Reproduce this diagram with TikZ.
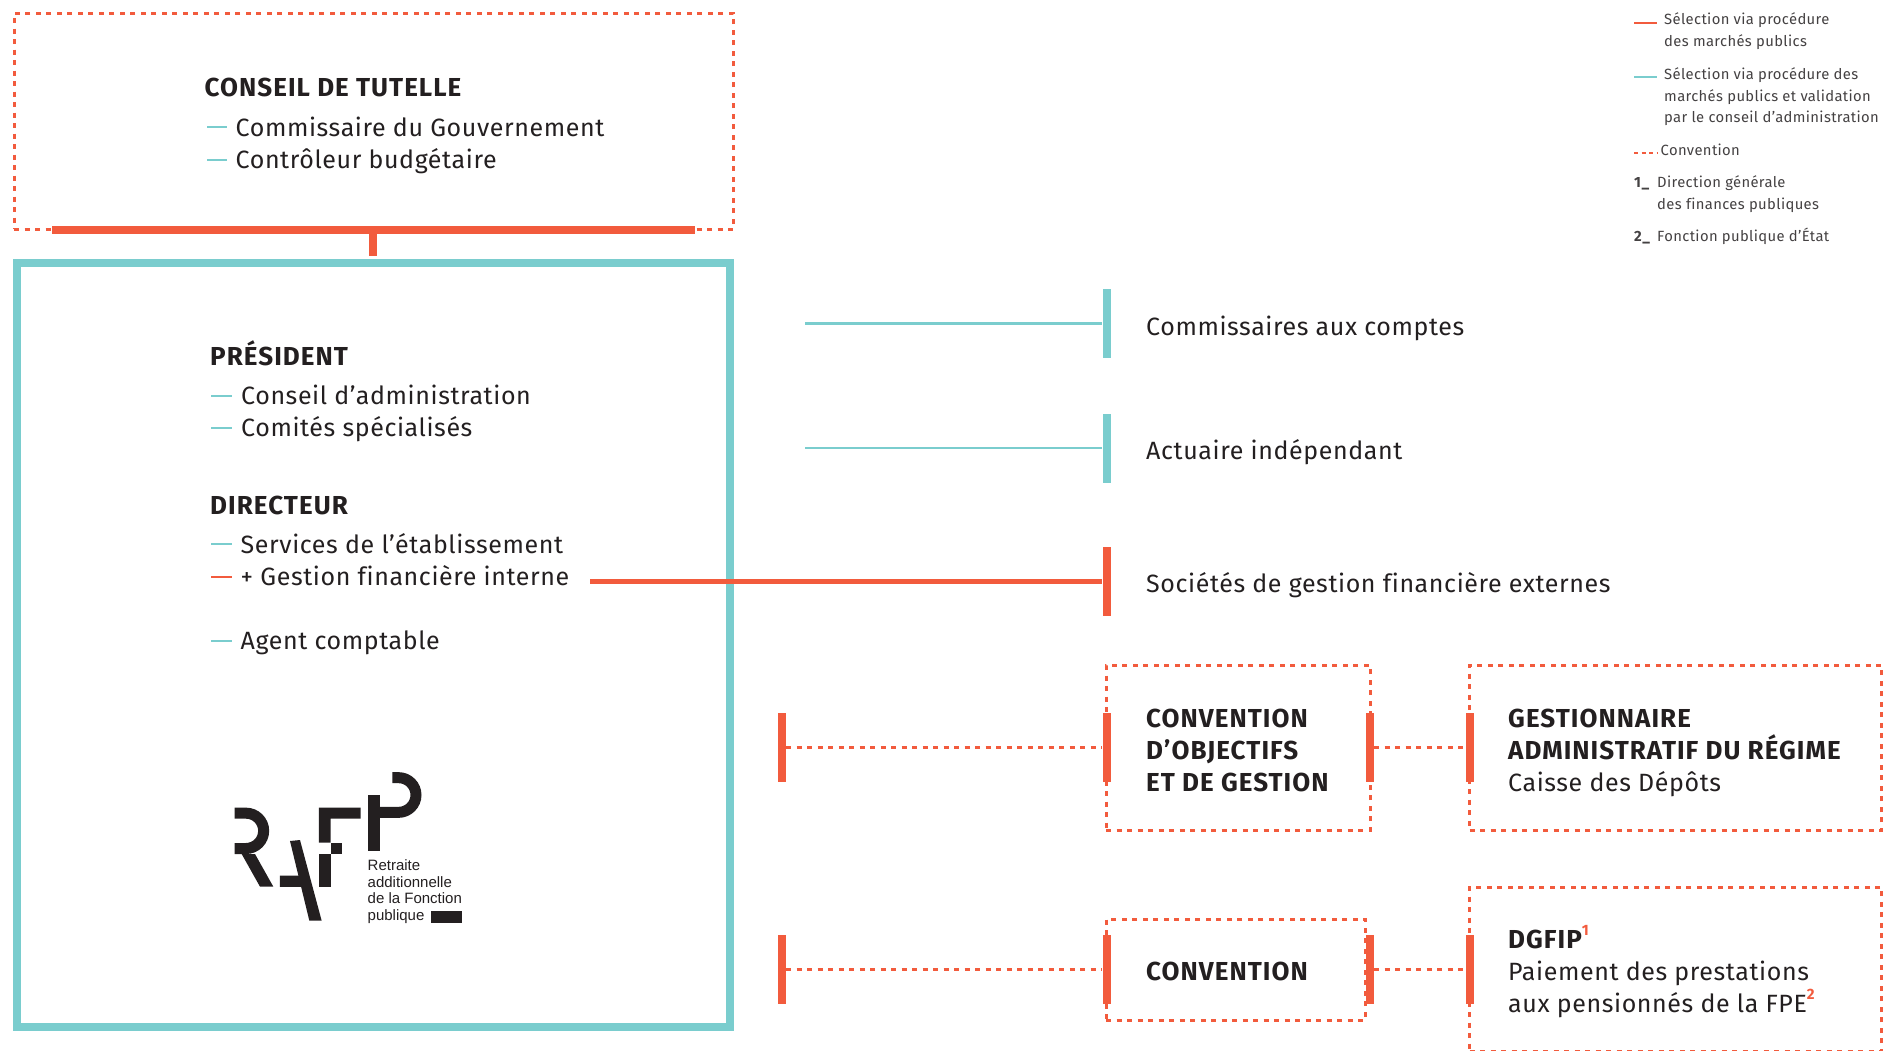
\documentclass[tikz,border=0pt]{standalone}
\usepackage{fontspec}
\setmainfont{Fira Sans}[LetterSpace=2.4, Ligatures=NoCommon, BoldFeatures={LetterSpace=4}]
\newfontfamily\logofont{Liberation Sans}
\definecolor{rafred}{HTML}{F25B3D}
\definecolor{rafteal}{HTML}{7ACDCE}
\definecolor{rafink}{HTML}{231F20}
\newcommand{\refmark}[1]{\textcolor{rafred}{\raisebox{0.5em}{\fontsize{15pt}{15pt}\selectfont\bfseries #1}}}
\tikzset{
  bodytxt/.style={anchor=base west, align=left, text=rafink, font=\fontsize{25pt}{32pt}\selectfont},
  headtxt/.style={bodytxt, font=\fontsize{26pt}{32pt}\selectfont\bfseries},
  smalltxt/.style={anchor=base west, align=left, text=rafink!85, font=\fontsize{14.8pt}{21.3pt}\selectfont},
  smallnum/.style={smalltxt, font=\fontsize{14.8pt}{21.3pt}\selectfont\bfseries},
  logotxt/.style={anchor=base west, align=left, text=rafink, font=\fontsize{15pt}{16.6pt}\logofont},
  dashbox/.style={rectangle, draw=rafred, line width=3pt, dash pattern=on 5pt off 5.5pt},
  redbar/.style={rectangle, fill=rafred, minimum width=8pt, minimum height=69pt},
  tealbar/.style={rectangle, fill=rafteal, minimum width=8pt, minimum height=69pt},
  redline/.style={draw=rafred, line width=5pt},
  tealline/.style={draw=rafteal, line width=2.5pt},
  tealmark/.style={draw=rafteal, line width=2pt},
  redmark/.style={draw=rafred, line width=2pt},
  dashline/.style={draw=rafred, line width=3pt, dash pattern=on 5pt off 5.5pt},
  stroke/.style={draw=rafink, line width=11pt},
  ink/.style={fill=rafink}
}
\begin{document}
\begin{tikzpicture}
[every node/.style={inner sep=0pt}]
\useasboundingbox (0pt, 0pt) rectangle (1884pt, -1050pt);
% left column
\node (tutelle) [dashbox, minimum width=719pt, minimum height=216pt] at (373.5pt, -121pt) {};
\node (main) [rectangle, draw=rafteal, line width=8pt, minimum width=713pt, minimum height=764.5pt] at (373pt, -645pt) {};
\node (tutellebar) [rectangle, fill=rafred, minimum width=643pt, minimum height=8pt] at (373pt, -230pt) {};
\coordinate (stemend) at (373pt, -256pt);
\draw [redline, line width=8pt] (tutellebar) -- (stemend);
\node (conseil) [headtxt] at (204.5pt, -96pt) {CONSEIL DE TUTELLE};
\coordinate (d1a) at (207pt, -127pt); \coordinate (d1b) at (227pt, -127pt);
\coordinate (d2a) at (207pt, -159.5pt); \coordinate (d2b) at (227pt, -159.5pt);
\draw [tealmark] (d1a) -- (d1b);
\draw [tealmark] (d2a) -- (d2b);
\node (commissaire) [bodytxt] at (235.5pt, -136pt) {Commissaire du Gouvernement};
\node (controleur) [bodytxt] at (235.5pt, -168pt) {Contrôleur budgétaire};
\node (president) [headtxt] at (210pt, -365pt) {PRÉSIDENT};
\coordinate (d3a) at (211pt, -395.5pt); \coordinate (d3b) at (232pt, -395.5pt);
\coordinate (d4a) at (211pt, -427.5pt); \coordinate (d4b) at (232pt, -427.5pt);
\draw [tealmark] (d3a) -- (d3b);
\draw [tealmark] (d4a) -- (d4b);
\node (ca) [bodytxt] at (241pt, -404pt) {Conseil d’administration};
\node (comites) [bodytxt] at (241pt, -436pt) {Comités spécialisés};
\node (directeur) [headtxt] at (210pt, -514pt) {DIRECTEUR};
\coordinate (d5a) at (211pt, -544pt); \coordinate (d5b) at (232pt, -544pt);
\coordinate (d6a) at (211pt, -577pt); \coordinate (d6b) at (232pt, -577pt);
\coordinate (d7a) at (211pt, -640.5pt); \coordinate (d7b) at (232pt, -640.5pt);
\draw [tealmark] (d5a) -- (d5b);
\draw [redmark] (d6a) -- (d6b);
\draw [tealmark] (d7a) -- (d7b);
\node (services) [bodytxt] at (240.5pt, -553pt) {Services de l’établissement};
\node (gestion) [bodytxt] at (240.5pt, -585pt) {+ Gestion financière interne};
\node (agent) [bodytxt] at (240.5pt, -649pt) {Agent comptable};
% logo
\begin{scope}[shift={(200pt,-740pt)}, x=0.3333pt, y=-0.3333pt]
\draw [stroke] (104,219.5) -- (138,219.5) arc (-90:90:53) -- (104,325.5);
\fill [ink] (125,342) -- (165,342) -- (220,440) -- (180,440) -- cycle;
\fill [ink] (270,303) -- (300,300) -- (365,542) -- (328,542) -- cycle;
\fill [ink] (240,407) -- (312,407) -- (320,441) -- (240,441) -- cycle;
\fill [ink] (357,203) -- (482,203) -- (482,236) -- (392,236) -- (392,308) -- (357,308) -- cycle;
\fill [ink] (392,308) rectangle (426,343);
\fill [ink] (357,343) rectangle (392,440);
\fill [ink] (503,165) rectangle (540,333);
\draw [stroke] (577,113) -- (596,113) arc (-90:90:52) -- (540,217);
\fill [ink] (693,513) rectangle (786,549);
\end{scope}
\node (logoname) [logotxt] at (367.5pt, -920.5pt) {Retraite\\additionnelle\\de la Fonction\\publique};
% right column
\coordinate (cacstart) at (805pt, -323.5pt);
\coordinate (actstart) at (805pt, -448pt);
\coordinate (sgfstart) at (590pt, -581pt);
\node (cacbar) [tealbar] at (1106.5pt, -323.5pt) {};
\node (actbar) [tealbar] at (1106.5pt, -448pt) {};
\node (sgfbar) [redbar] at (1106.5pt, -581pt) {};
\draw [tealline] (cacstart) -- (cacbar);
\draw [tealline] (actstart) -- (actbar);
\draw [redline] (sgfstart) -- (sgfbar);
\node (cac) [bodytxt] at (1146pt, -335pt) {Commissaires aux comptes};
\node (act) [bodytxt] at (1146pt, -459pt) {Actuaire indépendant};
\node (sgf) [bodytxt] at (1146pt, -592pt) {Sociétés de gestion financière externes};
\node (cogbox) [dashbox, minimum width=264pt, minimum height=165pt] at (1238pt, -747.5pt) {};
\node (gestbox) [dashbox, minimum width=412pt, minimum height=165pt] at (1675.5pt, -747.5pt) {};
\node (convbox) [dashbox, minimum width=259pt, minimum height=101pt] at (1235.5pt, -969.5pt) {};
\node (dgfipbox) [dashbox, minimum width=412pt, minimum height=164pt] at (1675.5pt, -969pt) {};
\node (cogl) [redbar] at (782pt, -747.5pt) {};
\node (cogm) [redbar] at (1106.5pt, -747.5pt) {};
\node (cogr) [redbar] at (1370pt, -747.5pt) {};
\node (gestl) [redbar] at (1469.5pt, -747.5pt) {};
\node (convl) [redbar] at (782pt, -969pt) {};
\node (convm) [redbar] at (1106.5pt, -969pt) {};
\node (convr) [redbar] at (1370pt, -969pt) {};
\node (dgfipl) [redbar] at (1469.5pt, -969pt) {};
\draw [dashline] (cogl) -- (cogm);
\draw [dashline] (cogr) -- (gestl);
\draw [dashline] (convl) -- (convm);
\draw [dashline] (convr) -- (dgfipl);
\node (cogtxt) [headtxt] at (1146pt, -791pt) {CONVENTION\\D’OBJECTIFS\\ET DE GESTION};
\node (gesttxt) [headtxt] at (1508pt, -791pt) {GESTIONNAIRE\\ADMINISTRATIF DU RÉGIME\\\mdseries\fontsize{25pt}{32pt}\selectfont Caisse des Dépôts};
\node (convtxt) [headtxt] at (1146pt, -980pt) {CONVENTION};
\node (dgfiptxt) [bodytxt] at (1508pt, -1012pt) {{\fontsize{26pt}{32pt}\selectfont\bfseries DGFIP}\refmark{1}\\Paiement des prestations\\aux pensionnés de la FPE\refmark{2}};
% legend
\coordinate (l1a) at (1634pt, -23pt); \coordinate (l1b) at (1657pt, -23pt);
\coordinate (l2a) at (1634pt, -77pt); \coordinate (l2b) at (1657pt, -77pt);
\coordinate (l3a) at (1634pt, -153pt); \coordinate (l3b) at (1657pt, -153pt);
\draw [redline, line width=2.5pt] (l1a) -- (l1b);
\draw [tealline] (l2a) -- (l2b);
\draw [dashline, line width=2.5pt, dash pattern=on 4pt off 3.5pt] (l3a) -- (l3b);
\node (leg1) [smalltxt] at (1664pt, -46pt) {Sélection via procédure\\des marchés publics};
\node (leg2) [smalltxt] at (1664pt, -122.5pt) {Sélection via procédure des\\marchés publics et validation\\par le conseil d’administration};
\node (leg3) [smalltxt] at (1660.5pt, -155pt) {Convention};
\node (num1) [smallnum] at (1634pt, -187pt) {1\_};
\node (leg4) [smalltxt] at (1657pt, -209pt) {Direction générale\\des finances publiques};
\node (num2) [smallnum] at (1634pt, -241pt) {2\_};
\node (leg5) [smalltxt] at (1657pt, -241pt) {Fonction publique d’État};
\end{tikzpicture}
\end{document}
